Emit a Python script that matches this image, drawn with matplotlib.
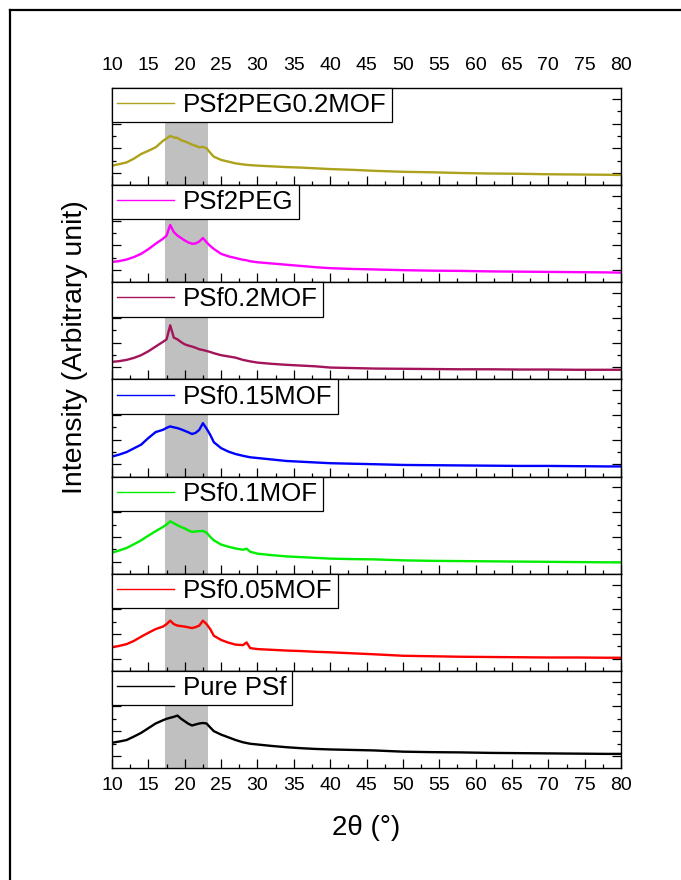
import matplotlib
matplotlib.use("Agg")
import matplotlib.pyplot as plt
from matplotlib.ticker import MultipleLocator
from matplotlib.lines import Line2D

plt.rcParams['font.family'] = ['Liberation Sans', 'DejaVu Sans']

# 2theta grid (degrees)
two_theta = [10, 11, 12, 13, 14, 15, 16, 17, 17.5, 18, 18.5, 19, 19.5, 20, 20.5,
             21, 21.5, 22, 22.5, 23, 23.5, 24, 25, 26, 27, 28, 28.5, 29, 30, 32,
             34, 36, 38, 40, 43, 46, 50, 54, 58, 62, 66, 70, 74, 78, 80]

# intensities (arbitrary units, one major tick = 1), top panel first
psf2peg02mof = [0.30, 0.36, 0.43, 0.58, 0.77, 0.90, 1.04, 1.30, 1.40, 1.50, 1.44, 1.42, 1.33, 1.28, 1.22,
                1.15, 1.10, 1.04, 1.06, 1.00, 0.82, 0.66, 0.53, 0.46, 0.39, 0.35, 0.33, 0.32, 0.30, 0.27,
                0.24, 0.22, 0.19, 0.16, 0.13, 0.09, 0.05, 0.03, 0.00, -0.02, -0.03, -0.05, -0.06, -0.07, -0.08]
psf2peg = [0.33, 0.37, 0.43, 0.53, 0.66, 0.85, 1.07, 1.27, 1.40, 1.83, 1.54, 1.40, 1.30, 1.20, 1.12,
           1.07, 1.08, 1.16, 1.30, 1.13, 0.98, 0.86, 0.66, 0.56, 0.49, 0.42, 0.40, 0.36, 0.32, 0.27,
           0.22, 0.17, 0.12, 0.08, 0.05, 0.03, 0.00, -0.02, -0.03, -0.05, -0.06, -0.07, -0.08, -0.09, -0.10]
psf02mof = [0.22, 0.25, 0.30, 0.38, 0.49, 0.65, 0.84, 1.03, 1.13, 1.70, 1.20, 1.13, 1.02, 0.93, 0.88,
            0.84, 0.79, 0.73, 0.70, 0.66, 0.62, 0.57, 0.49, 0.44, 0.39, 0.30, 0.27, 0.24, 0.19, 0.14,
            0.10, 0.07, 0.04, -0.01, -0.03, -0.05, -0.06, -0.07, -0.08, -0.08, -0.09, -0.09, -0.10, -0.10, -0.10]
psf015mof = [0.32, 0.40, 0.50, 0.65, 0.80, 1.07, 1.31, 1.40, 1.48, 1.54, 1.50, 1.47, 1.42, 1.36, 1.30,
             1.23, 1.28, 1.40, 1.67, 1.45, 1.20, 0.90, 0.66, 0.52, 0.42, 0.35, 0.32, 0.29, 0.26, 0.20,
             0.14, 0.11, 0.08, 0.05, 0.03, 0.01, -0.02, -0.03, -0.04, -0.05, -0.06, -0.06, -0.07, -0.08, -0.08]
psf01mof = [0.36, 0.45, 0.55, 0.70, 0.86, 1.05, 1.23, 1.40, 1.50, 1.63, 1.55, 1.47, 1.40, 1.34, 1.26,
            1.20, 1.22, 1.23, 1.24, 1.17, 1.00, 0.86, 0.69, 0.60, 0.53, 0.48, 0.52, 0.40, 0.32, 0.26,
            0.21, 0.18, 0.15, 0.12, 0.10, 0.09, 0.05, 0.03, 0.02, 0.01, 0.00, -0.01, -0.02, -0.03, -0.03]
psf005mof = [0.46, 0.52, 0.59, 0.72, 0.89, 1.05, 1.20, 1.30, 1.40, 1.54, 1.40, 1.34, 1.32, 1.30, 1.27,
             1.24, 1.28, 1.34, 1.54, 1.40, 1.20, 0.93, 0.76, 0.65, 0.57, 0.55, 0.66, 0.43, 0.39, 0.36,
             0.33, 0.31, 0.28, 0.26, 0.22, 0.18, 0.12, 0.10, 0.08, 0.07, 0.06, 0.05, 0.05, 0.04, 0.04]
pure_psf = [0.53, 0.58, 0.64, 0.78, 0.93, 1.12, 1.31, 1.44, 1.50, 1.54, 1.58, 1.63, 1.50, 1.40, 1.30,
            1.23, 1.27, 1.31, 1.33, 1.31, 1.15, 1.00, 0.86, 0.75, 0.64, 0.55, 0.52, 0.49, 0.46, 0.40,
            0.35, 0.31, 0.28, 0.26, 0.24, 0.22, 0.17, 0.15, 0.14, 0.12, 0.11, 0.10, 0.09, 0.08, 0.08]

names = ['PSf2PEG0.2MOF', 'PSf2PEG', 'PSf0.2MOF', 'PSf0.15MOF', 'PSf0.1MOF', 'PSf0.05MOF', 'Pure PSf']
series = [psf2peg02mof, psf2peg, psf02mof, psf015mof, psf01mof, psf005mof, pure_psf]
colors = ['#ada21c', '#ff00ff', '#a3145a', '#0000ff', '#00ee00', '#ff0000', '#000000']

shade = (17.3, 23.2)

fig, axes = plt.subplots(7, 1, sharex=True, figsize=(6.81, 8.8), dpi=100)
fig.subplots_adjust(left=0.1645, right=0.912, top=0.9, bottom=0.1273, hspace=0)

for i, ax in enumerate(axes):
    ax.axvspan(shade[0], shade[1], color='#c0c0c0', lw=0, zorder=0)
    ax.plot(two_theta, series[i], color=colors[i], lw=1.7, label=names[i], zorder=2)
    ax.set_xlim(10, 80)
    ax.set_ylim(-0.49, 3.44)
    ax.xaxis.set_major_locator(MultipleLocator(5))
    ax.xaxis.set_minor_locator(MultipleLocator(2.5))
    ax.yaxis.set_major_locator(MultipleLocator(1))
    ax.yaxis.set_minor_locator(MultipleLocator(0.5))
    ax.tick_params(axis='both', which='both', direction='in', top=False, right=True,
                   labelleft=False, labelbottom=(i == 6), labeltop=(i == 0), labelsize=14)
    ax.tick_params(which='major', length=6.5, width=0.9)
    ax.tick_params(which='minor', length=3.2, width=0.9)
    for sp in ax.spines.values():
        sp.set_linewidth(1.0)
    leg = ax.legend(loc='upper left', bbox_to_anchor=(0, 1), borderaxespad=0, fancybox=False,
                    edgecolor='black', framealpha=1, fontsize=18.6, handlelength=2.2,
                    handletextpad=0.35, borderpad=0.2)
    leg.get_frame().set_linewidth(0.9)
    for h in leg.legend_handles:
        h.set_linewidth(1.0)

axes[0].tick_params(axis='x', pad=10)
axes[-1].tick_params(axis='x', pad=6.8)

fig.text(366 / 681, 1 - 828 / 880, '2θ (°)', fontsize=20, ha='center', va='center')
fig.text(75 / 681, 1 - 347 / 880, 'Intensity (Arbitrary unit)', fontsize=20.5,
         rotation=90, ha='center', va='center')

# frame around the figure (cut off at right and bottom)
fx, fy = 10 / 681, 1 - 10 / 880
fig.add_artist(Line2D([fx, fx], [0, fy], transform=fig.transFigure, color='black', lw=1.6))
fig.add_artist(Line2D([fx, 1], [fy, fy], transform=fig.transFigure, color='black', lw=1.6))

fig.savefig('out.png', dpi=100)
